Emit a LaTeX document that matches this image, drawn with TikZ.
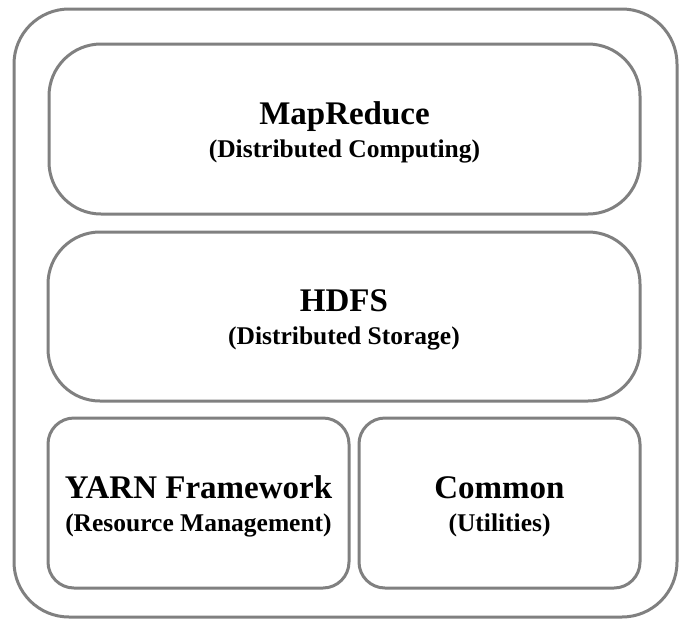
\documentclass[tikz,border=0pt]{standalone}
\usepackage{fontspec}
\setmainfont{Liberation Serif}
\usetikzlibrary{positioning}
\definecolor{layergray}{RGB}{128,128,128}
\tikzset{layer/.style={draw=layergray,line width=3pt,rounded corners=#1,inner sep=0pt,
    align=center,font=\fontsize{33}{33}\selectfont\bfseries},
  layer/.default=52pt}
\newcommand{\layerlabel}[2]{\rule{0pt}{29pt}#1\\{\fontsize{25.5}{33}\selectfont #2}}

\begin{document}
\begin{tikzpicture}[x=1pt,y=-1pt]
    \useasboundingbox (0,0) rectangle (683,619);
    % outer frame
    \node[layer=55pt,minimum width=663pt,minimum height=608pt] (stack) at (345.5,313) {};
    % layers
    \node[layer,minimum width=591pt,minimum height=170pt] (mapreduce) at (344.5,129)
        {\layerlabel{MapReduce}{(Distributed Computing)}};
    \node[layer,minimum width=592pt,minimum height=169pt] (hdfs) at (344,316.5)
        {\layerlabel{HDFS}{(Distributed Storage)}};
    \node[layer=26pt,minimum width=301pt,minimum height=170pt] (yarn) at (198.5,503)
        {\layerlabel{YARN Framework}{(Resource Management)}};
    \node[layer=26pt,minimum width=281pt,minimum height=170pt] (common) at (499.5,503)
        {\layerlabel{Common}{(Utilities)}};
\end{tikzpicture}
\end{document}
